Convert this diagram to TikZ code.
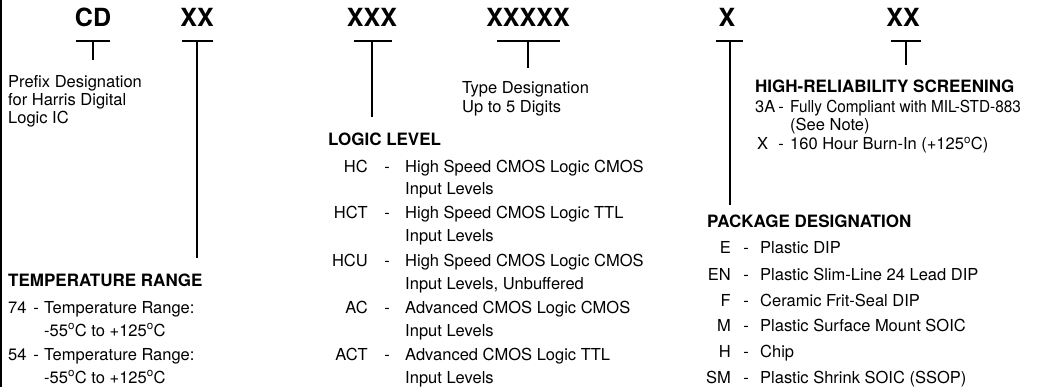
\documentclass[tikz,border=0pt]{standalone}
\usepackage{fontspec}
\setmainfont{TeX Gyre Heros}
\newcommand{\dg}{\textsuperscript{o}}
\begin{document}
\begin{tikzpicture}[x=1pt,y=-1pt,
  big/.style={font=\fontsize{25}{25}\selectfont\bfseries, inner sep=0, anchor=base},
  txt/.style={font=\fontsize{16.5}{18}\selectfont, inner sep=0, anchor=base west},
  code/.style={font=\fontsize{16.5}{18}\selectfont, inner sep=0, anchor=base east},
  dsh/.style={font=\fontsize{16.5}{18}\selectfont, inner sep=0, anchor=base},
  hdr/.style={font=\fontsize{17}{18}\selectfont\bfseries, inner sep=0, anchor=base west},
  tee/.style={line width=2.5pt},
]
\useasboundingbox (0,0) rectangle (1054,387);
\draw[line width=1.4pt] (1,0) -- (1,387);

% headers
\node[big] (cd) at (93,27) {CD};
\node[big] (xx1) at (197,27) {XX};
\node[big] (xxx) at (372,27) {XXX};
\node[big] (x5) at (528,27) {XXXXX};
\node[big] (x1) at (727,27) {X};
\node[big] (xx2) at (903,27) {XX};

% tee bars and stems
\coordinate (cdT) at (93,41);  \coordinate (cdE) at (93,60);
\coordinate (xx1T) at (197,41); \coordinate (xx1E) at (197,258);
\coordinate (xxxT) at (372,41); \coordinate (xxxE) at (372,117);
\coordinate (x5T) at (528,41); \coordinate (x5E) at (528,68);
\coordinate (x1T) at (730,41); \coordinate (x1E) at (730,205);
\coordinate (xx2T) at (906,41); \coordinate (xx2E) at (906,65);
\draw[tee] (76,41) -- (110,41);   \draw[tee] (cdT) -- (cdE);
\draw[tee] (182,41) -- (213,41);  \draw[tee] (xx1T) -- (xx1E);
\draw[tee] (354,41) -- (392,41);  \draw[tee] (xxxT) -- (xxxE);
\draw[tee] (497,41) -- (560,41);  \draw[tee] (x5T) -- (x5E);
\draw[tee] (716,41) -- (743,41);  \draw[tee] (x1T) -- (x1E);
\draw[tee] (891,41) -- (921,41);  \draw[tee] (xx2T) -- (xx2E);

% prefix
\node[txt] (p1) at (8,88) {Prefix Designation};
\node[txt] (p2) at (8,106) {for Harris Digital};
\node[txt] (p3) at (8,124) {Logic IC};

% type designation
\node[txt] (t1) at (462,94) {Type Designation};
\node[txt] (t2) at (462,113) {Up to 5 Digits};

% logic level
\node[hdr] (ll) at (328,146) {LOGIC LEVEL};
\node[code] (c1) at (368,173) {HC};  \node[dsh] at (387,173) {-}; \node[txt] (d1a) at (405,173) {High Speed CMOS Logic CMOS};
\node[txt] (d1b) at (405,195) {Input Levels};
\node[code] (c2) at (368,219) {HCT}; \node[dsh] at (387,219) {-}; \node[txt] (d2a) at (405,219) {High Speed CMOS Logic TTL};
\node[txt] (d2b) at (405,242) {Input Levels};
\node[code] (c3) at (368,266) {HCU}; \node[dsh] at (387,266) {-}; \node[txt] (d3a) at (405,266) {High Speed CMOS Logic CMOS};
\node[txt] (d3b) at (405,289) {Input Levels, Unbuffered};
\node[code] (c4) at (368,313) {AC};  \node[dsh] at (387,313) {-}; \node[txt] (d4a) at (405,313) {Advanced CMOS Logic CMOS};
\node[txt] (d4b) at (405,336) {Input Levels};
\node[code] (c5) at (368,360) {ACT}; \node[dsh] at (387,360) {-}; \node[txt] (d5a) at (405,360) {Advanced CMOS Logic TTL};
\node[txt] (d5b) at (405,383) {Input Levels};

% temperature range
\node[hdr] (tr) at (8,287) {TEMPERATURE RANGE};
\node[txt] (r1) at (8,313) {74}; \node[dsh] at (36,313) {-}; \node[txt] (r1a) at (44,313) {Temperature Range:};
\node[txt] (r1b) at (44,336) {-55\dg C to +125\dg C};
\node[txt] (r2) at (8,360) {54}; \node[dsh] at (36,360) {-}; \node[txt] (r2a) at (44,360) {Temperature Range:};
\node[txt] (r2b) at (44,383) {-55\dg C to +125\dg C};

% high reliability screening
\node[hdr] (hr) at (755,93) {HIGH-RELIABILITY SCREENING};
\node[txt] (s1) at (755,113) {3A}; \node[dsh] at (781,113) {-}; \node[txt] (s1a) at (790,113) {\scalebox{0.93}[1]{Fully Compliant with MIL-STD-883}};
\node[txt] (s1b) at (790,131) {(See Note)};
\node[txt] (s2) at (757,150) {X}; \node[dsh] at (781,150) {-}; \node[txt] (s2a) at (790,150) {160 Hour Burn-In (+125\dg C)};

% package designation
\node[hdr] (pd) at (707,228) {PACKAGE DESIGNATION};
\node[code] (k1) at (731,254) {E};  \node[dsh] at (746,254) {-}; \node[txt] at (760,254) {Plastic DIP};
\node[code] (k2) at (731,280) {EN}; \node[dsh] at (746,280) {-}; \node[txt] at (760,280) {Plastic Slim-Line 24 Lead DIP};
\node[code] (k3) at (731,306) {F};  \node[dsh] at (746,306) {-}; \node[txt] at (760,306) {Ceramic Frit-Seal DIP};
\node[code] (k4) at (731,331) {M};  \node[dsh] at (746,331) {-}; \node[txt] at (760,331) {Plastic Surface Mount SOIC};
\node[code] (k5) at (731,357) {H};  \node[dsh] at (746,357) {-}; \node[txt] at (760,357) {Chip};
\node[code] (k6) at (731,383) {SM}; \node[dsh] at (746,383) {-}; \node[txt] at (760,383) {Plastic Shrink SOIC (SSOP)};
\end{tikzpicture}
\end{document}
